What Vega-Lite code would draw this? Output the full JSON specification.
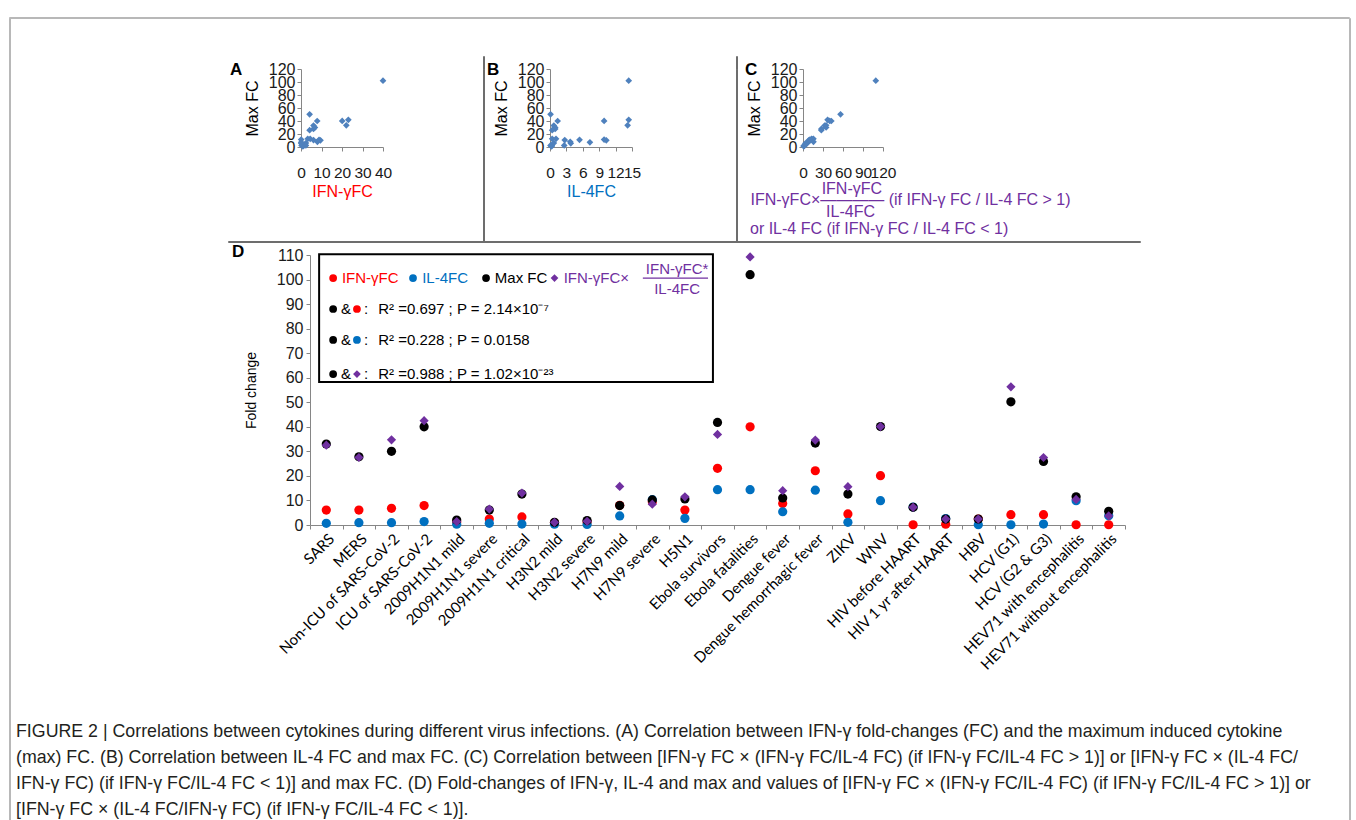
{
  "$schema": "https://vega.github.io/schema/vega-lite/v6.json",
  "background": "white",
  "padding": {"left": 8, "top": 16, "right": 5, "bottom": 0},
  "config": {
    "view": {"stroke": null},
    "font": "Liberation Sans",
    "axis": {
      "domainColor": "#868686", "tickColor": "#868686", "labelColor": "#1a1a1a", "titleColor": "#000000",
      "grid": false, "labelFont": "Liberation Sans", "titleFont": "Liberation Sans", "titleFontWeight": "normal",
      "tickSize": 4, "labelOverlap": false, "labelFlush": false, "labelFontSize": 16, "titleFontSize": 16
    }
  },
  "datasets": {
    "fc": [
      {"cat": "SARS", "ifn": 6.1, "il4": 0.7, "max": 33.0, "ratio": 32.5},
      {"cat": "MERS", "ifn": 6.1, "il4": 0.95, "max": 27.8, "ratio": 27.5},
      {"cat": "Non-ICU of SARS-CoV-2", "ifn": 6.8, "il4": 0.95, "max": 30.0, "ratio": 34.7},
      {"cat": "ICU of SARS-CoV-2", "ifn": 7.9, "il4": 1.4, "max": 40.0, "ratio": 42.5},
      {"cat": "2009H1N1 mild", "ifn": 1.2, "il4": 0.3, "max": 2.0, "ratio": 1.4},
      {"cat": "2009H1N1 severe", "ifn": 2.4, "il4": 0.7, "max": 6.1, "ratio": 6.5},
      {"cat": "2009H1N1 critical", "ifn": 3.3, "il4": 0.4, "max": 12.6, "ratio": 13.0},
      {"cat": "H3N2 mild", "ifn": 0.9, "il4": 0.3, "max": 1.1, "ratio": 1.1},
      {"cat": "H3N2 severe", "ifn": 1.2, "il4": 0.2, "max": 1.8, "ratio": 1.5},
      {"cat": "H7N9 mild", "ifn": 8.0, "il4": 3.7, "max": 7.9, "ratio": 15.7},
      {"cat": "H7N9 severe", "ifn": 9.5, "il4": 10.3, "max": 10.2, "ratio": 8.5},
      {"cat": "H5N1", "ifn": 6.1, "il4": 2.7, "max": 10.6, "ratio": 11.5},
      {"cat": "Ebola survivors", "ifn": 23.1, "il4": 14.4, "max": 41.8, "ratio": 36.9},
      {"cat": "Ebola fatalities", "ifn": 40.0, "il4": 14.4, "max": 102.0, "ratio": 109.2},
      {"cat": "Dengue fever", "ifn": 8.8, "il4": 5.4, "max": 11.0, "ratio": 14.0},
      {"cat": "Dengue hemorrhagic fever", "ifn": 22.1, "il4": 14.2, "max": 33.4, "ratio": 34.6},
      {"cat": "ZIKV", "ifn": 4.5, "il4": 1.1, "max": 12.6, "ratio": 15.6},
      {"cat": "WNV", "ifn": 20.1, "il4": 9.9, "max": 40.1, "ratio": 40.1},
      {"cat": "HIV before HAART", "ifn": 0.1, "il4": 7.3, "max": 7.2, "ratio": 7.2},
      {"cat": "HIV 1 yr after HAART", "ifn": 0.3, "il4": 2.6, "max": 2.4, "ratio": 2.4},
      {"cat": "HBV", "ifn": 2.4, "il4": 0.1, "max": 2.4, "ratio": 2.4},
      {"cat": "HCV (G1)", "ifn": 4.2, "il4": 0.1, "max": 50.2, "ratio": 56.3},
      {"cat": "HCV (G2 & G3)", "ifn": 4.2, "il4": 0.4, "max": 25.9, "ratio": 27.5},
      {"cat": "HEV71 with encephalitis", "ifn": 0.1, "il4": 9.9, "max": 11.5, "ratio": 10.4},
      {"cat": "HEV71 without encephalitis", "ifn": 0.1, "il4": 3.8, "max": 5.6, "ratio": 3.7}
    ],
    "legBox": [{"lx": 0.28, "lx2": 12.36, "fc": 58.3, "fc2": 110.3}],
    "legSym": [
      {"lx": 0.71, "fc": 100.6, "series": "ifn"},
      {"lx": 3.16, "fc": 100.6, "series": "il4"},
      {"lx": 5.40, "fc": 100.6, "series": "max"},
      {"lx": 7.50, "fc": 100.6, "series": "ratio"},
      {"lx": 0.71, "fc": 88.0, "series": "max"},
      {"lx": 1.44, "fc": 88.0, "series": "ifn"},
      {"lx": 0.71, "fc": 75.4, "series": "max"},
      {"lx": 1.44, "fc": 75.4, "series": "il4"},
      {"lx": 0.71, "fc": 61.5, "series": "max"},
      {"lx": 1.44, "fc": 61.5, "series": "ratio"}
    ],
    "legLeft": [
      {"lx": 0.98, "fc": 100.6, "series": "ifn", "text": "IFN-γFC"},
      {"lx": 3.44, "fc": 100.6, "series": "il4", "text": "IL-4FC"},
      {"lx": 5.67, "fc": 100.6, "series": "max", "text": "Max FC"},
      {"lx": 7.78, "fc": 100.6, "series": "ratio", "text": "IFN-γFC×"},
      {"lx": 0.95, "fc": 88.0, "series": "max", "text": "&"},
      {"lx": 1.66, "fc": 88.0, "series": "max", "text": ":"},
      {"lx": 2.09, "fc": 88.0, "series": "max", "text": "R² =0.697 ; P = 2.14×10⁻⁷"},
      {"lx": 0.95, "fc": 75.4, "series": "max", "text": "&"},
      {"lx": 1.66, "fc": 75.4, "series": "max", "text": ":"},
      {"lx": 2.09, "fc": 75.4, "series": "max", "text": "R² =0.228 ; P = 0.0158"},
      {"lx": 0.95, "fc": 61.5, "series": "max", "text": "&"},
      {"lx": 1.66, "fc": 61.5, "series": "max", "text": ":"},
      {"lx": 2.09, "fc": 61.5, "series": "max", "text": "R² =0.988 ; P = 1.02×10⁻²³"}
    ],
    "legCenter": [
      {"lx": 11.26, "fc": 104.3, "series": "ratio", "text": "IFN-γFC*"},
      {"lx": 11.26, "fc": 96.0, "series": "ratio", "text": "IL-4FC"}
    ],
    "legBar": [{"lx": 10.21, "lx2": 12.21, "fc": 100.6, "series": "ratio"}]
  },
  "spacing": 0,
  "bounds": "flush",
  "vconcat": [
    {"data": {"values": []}, "mark": "point", "encoding": {}, "width": 1340, "height": 1, "view": {"stroke": "#b8b8b8", "strokeWidth": 1}},
    {
      "spacing": 0,
      "bounds": "flush",
      "hconcat": [
        {"data": {"values": []}, "mark": "point", "encoding": {}, "width": 1, "height": 810, "view": {"stroke": "#b8b8b8", "strokeWidth": 1}},
        {"data": {"values": []}, "mark": "point", "encoding": {}, "width": 218, "height": 1},
        {
          "title": {
            "text": [
              "FIGURE 2 | Correlations between cytokines during different virus infections. (A) Correlation between IFN-γ fold-changes (FC) and the maximum induced cytokine",
              "(max) FC. (B) Correlation between IL-4 FC and max FC. (C) Correlation between [IFN-γ FC × (IFN-γ FC/IL-4 FC) (if IFN-γ FC/IL-4 FC > 1)] or [IFN-γ FC × (IL-4 FC/",
              "IFN-γ FC) (if IFN-γ FC/IL-4 FC < 1)] and max FC. (D) Fold-changes of IFN-γ, IL-4 and max and values of [IFN-γ FC × (IFN-γ FC/IL-4 FC) (if IFN-γ FC/IL-4 FC > 1)] or",
              "[IFN-γ FC × (IL-4 FC/IFN-γ FC) (if IFN-γ FC/IL-4 FC < 1)]."
            ],
            "orient": "bottom", "anchor": "start", "frame": "group", "dx": -212, "offset": 51,
            "font": "Liberation Sans", "fontSize": 17.8, "fontWeight": "normal", "color": "#231f20", "lineHeight": 25.7
          },
          "spacing": 0,
          "bounds": "flush",
          "vconcat": [
            {"data": {"values": []}, "mark": "point", "encoding": {}, "width": 1, "height": 38},
            {
              "columns": 10,
              "spacing": 0,
              "bounds": "flush",
              "align": {"row": "each", "column": "each"},
              "concat": [
                {"data": {"values": []}, "mark": "point", "encoding": {}, "width": 73, "height": 13},
                {"data": {"values": []}, "mark": "point", "encoding": {}, "width": 82, "height": 13,
                 "title": {"text": "A", "orient": "bottom", "baseline": "alphabetic", "anchor": "start", "frame": "group", "dx": -71, "dy": 6, "offset": 0, "fontSize": 17, "fontWeight": "bold", "color": "#000"}},
                {"data": {"values": []}, "mark": "point", "encoding": {}, "width": 100, "height": 13},
                {"data": {"values": []}, "mark": "point", "encoding": {}, "width": 1, "height": 13, "view": {"stroke": "#6d6d6d", "strokeWidth": 1}},
                {"data": {"values": []}, "mark": "point", "encoding": {}, "width": 66, "height": 13},
                {"data": {"values": []}, "mark": "point", "encoding": {}, "width": 82, "height": 13,
                 "title": {"text": "B", "orient": "bottom", "baseline": "alphabetic", "anchor": "start", "frame": "group", "dx": -63, "dy": 6, "offset": 0, "fontSize": 17, "fontWeight": "bold", "color": "#000"}},
                {"data": {"values": []}, "mark": "point", "encoding": {}, "width": 104, "height": 13},
                {"data": {"values": []}, "mark": "point", "encoding": {}, "width": 1, "height": 13, "view": {"stroke": "#6d6d6d", "strokeWidth": 1}},
                {"data": {"values": []}, "mark": "point", "encoding": {}, "width": 66, "height": 13},
                {"data": {"values": []}, "mark": "point", "encoding": {}, "width": 80, "height": 13,
                 "title": {"text": "C", "orient": "bottom", "baseline": "alphabetic", "anchor": "start", "frame": "group", "dx": -58, "dy": 6, "offset": 0, "fontSize": 17, "fontWeight": "bold", "color": "#000"}},

                {"data": {"values": []}, "mark": "point", "encoding": {}, "width": 73, "height": 1},
                {
                  "data": {"name": "fc"}, "width": 82, "height": 78,
                  "mark": {"type": "point", "shape": "diamond", "filled": true, "color": "#4f81bd", "size": 45, "opacity": 1},
                  "encoding": {
                    "x": {"field": "ifn", "type": "quantitative", "scale": {"domain": [0, 40], "nice": false},
                          "axis": {"values": [0, 10, 20, 30, 40], "title": "IFN-γFC", "titleColor": "#ff0000", "labelPadding": 14, "labelFontSize": 15.5, "titlePadding": 3}},
                    "y": {"field": "max", "type": "quantitative", "scale": {"domain": [0, 120], "nice": false},
                          "axis": {"values": [0, 20, 40, 60, 80, 100, 120], "title": "Max FC", "titlePadding": 8, "labelPadding": 2}}
                  }
                },
                {"data": {"values": []}, "mark": "point", "encoding": {}, "width": 100, "height": 1},
                {"data": {"values": []}, "mark": "point", "encoding": {}, "width": 1, "height": 172, "view": {"stroke": "#6d6d6d", "strokeWidth": 1}},
                {"data": {"values": []}, "mark": "point", "encoding": {}, "width": 66, "height": 1},
                {
                  "data": {"name": "fc"}, "width": 82, "height": 78,
                  "mark": {"type": "point", "shape": "diamond", "filled": true, "color": "#4f81bd", "size": 45, "opacity": 1},
                  "encoding": {
                    "x": {"field": "il4", "type": "quantitative", "scale": {"domain": [0, 15], "nice": false},
                          "axis": {"values": [0, 3, 6, 9, 12, 15], "title": "IL-4FC", "titleColor": "#0070c0", "labelPadding": 14, "labelFontSize": 15.5, "titlePadding": 3}},
                    "y": {"field": "max", "type": "quantitative", "scale": {"domain": [0, 120], "nice": false},
                          "axis": {"values": [0, 20, 40, 60, 80, 100, 120], "title": "Max FC", "titlePadding": 8, "labelPadding": 2}}
                  }
                },
                {"data": {"values": []}, "mark": "point", "encoding": {}, "width": 104, "height": 1},
                {"data": {"values": []}, "mark": "point", "encoding": {}, "width": 1, "height": 172, "view": {"stroke": "#6d6d6d", "strokeWidth": 1}},
                {"data": {"values": []}, "mark": "point", "encoding": {}, "width": 66, "height": 1},
                {
                  "data": {"name": "fc"}, "width": 80, "height": 78,
                  "title": {"text": "or IL-4 FC (if IFN-γ FC / IL-4 FC < 1)", "orient": "bottom", "anchor": "start", "frame": "group", "dx": -53, "offset": 2, "fontSize": 16, "fontWeight": "normal", "color": "#7030a0"},
                  "mark": {"type": "point", "shape": "diamond", "filled": true, "color": "#4f81bd", "size": 45, "opacity": 1},
                  "encoding": {
                    "x": {"field": "ratio", "type": "quantitative", "scale": {"domain": [0, 120], "nice": false},
                          "axis": {"values": [0, 30, 60, 90, 120], "labelPadding": 14, "labelFontSize": 15.5,
                                   "title": ["\u200b\u00a0\u00a0\u00a0\u00a0\u00a0\u00a0\u00a0\u00a0\u00a0\u00a0\u00a0\u00a0\u00a0\u00a0\u00a0\u00a0IFN-γFC", "IFN-γFC×———— (if IFN-γ FC / IL-4 FC > 1)", "\u200b\u00a0\u00a0\u00a0\u00a0\u00a0\u00a0\u00a0\u00a0\u00a0\u00a0\u00a0\u00a0\u00a0\u00a0\u00a0\u00a0\u00a0IL-4FC"],
                                   "titleColor": "#7030a0", "titleAlign": "left", "titleAnchor": "start", "titleBaseline": "top",
                                   "titleLineHeight": 11.5, "titleX": -53, "titleY": 33}},
                    "y": {"field": "max", "type": "quantitative", "scale": {"domain": [0, 120], "nice": false},
                          "axis": {"values": [0, 20, 40, 60, 80, 100, 120], "title": "Max FC", "titlePadding": 8, "labelPadding": 2}}
                  }
                }
              ]
            },
            {"data": {"values": []}, "mark": "point", "encoding": {}, "width": 912, "height": 185},
            {"data": {"values": []}, "mark": "point", "encoding": {}, "width": 912, "height": 1, "view": {"stroke": "#6d6d6d", "strokeWidth": 1}},
            {"data": {"values": []}, "mark": "point", "encoding": {}, "width": 1, "height": 13},
            {
              "spacing": 0,
              "bounds": "flush",
              "hconcat": [
                {"data": {"values": []}, "mark": "point", "encoding": {}, "width": 82, "height": 1},
                {
                  "width": 815, "height": 270,
                  "title": {"text": "D", "anchor": "start", "frame": "group", "dx": -78, "dy": 18, "fontSize": 17, "fontWeight": "bold", "color": "#000"},
                  "layer": [
                    {
                      "data": {"name": "legBox"},
                      "mark": {"type": "rect", "fill": null, "stroke": "#000000", "strokeWidth": 2},
                      "encoding": {
                        "x": {"field": "lx", "type": "quantitative", "scale": {"domain": [0, 25], "nice": false}, "axis": null},
                        "x2": {"field": "lx2"},
                        "y": {"field": "fc", "type": "quantitative", "scale": {"domain": [0, 110], "nice": false},
                              "axis": {"values": [0, 10, 20, 30, 40, 50, 60, 70, 80, 90, 100, 110], "title": "Fold change", "titleFontSize": 14, "titlePadding": 18, "labelPadding": 3}},
                        "y2": {"field": "fc2"}
                      }
                    },
                    {
                      "data": {"name": "fc"},
                      "transform": [{"fold": ["ifn", "il4", "max", "ratio"], "as": ["series", "fc"]}],
                      "mark": {"type": "point", "filled": true, "opacity": 1},
                      "encoding": {
                        "x": {"field": "cat", "type": "nominal", "sort": null, "scale": {"type": "band", "paddingInner": 0, "paddingOuter": 0},
                              "axis": {"title": null, "labelAngle": -45, "labelFont": "Lato", "labelFontSize": 15, "labelColor": "#000000", "tickBand": "extent", "labelLimit": 400, "labelPadding": 2}},
                        "y": {"field": "fc", "type": "quantitative", "scale": {"domain": [0, 110], "nice": false},
                              "axis": {"values": [0, 10, 20, 30, 40, 50, 60, 70, 80, 90, 100, 110], "title": "Fold change", "titleFontSize": 14, "titlePadding": 18, "labelPadding": 3}},
                        "color": {"field": "series", "type": "nominal", "scale": {"domain": ["ifn", "il4", "max", "ratio"], "range": ["#ff0000", "#0070c0", "#000000", "#7030a0"]}, "legend": null},
                        "shape": {"field": "series", "type": "nominal", "scale": {"domain": ["ifn", "il4", "max", "ratio"], "range": ["circle", "circle", "circle", "diamond"]}, "legend": null},
                        "size": {"field": "series", "type": "nominal", "scale": {"domain": ["ifn", "il4", "max", "ratio"], "range": [85, 85, 85, 100]}, "legend": null}
                      }
                    },
                    {
                      "data": {"name": "legSym"},
                      "mark": {"type": "point", "filled": true, "opacity": 1, "size": 60},
                      "encoding": {
                        "x": {"field": "lx", "type": "quantitative", "scale": {"domain": [0, 25], "nice": false}, "axis": null},
                        "y": {"field": "fc", "type": "quantitative", "scale": {"domain": [0, 110], "nice": false},
                              "axis": {"values": [0, 10, 20, 30, 40, 50, 60, 70, 80, 90, 100, 110], "title": "Fold change", "titleFontSize": 14, "titlePadding": 18, "labelPadding": 3}},
                        "color": {"field": "series", "type": "nominal", "scale": {"domain": ["ifn", "il4", "max", "ratio"], "range": ["#ff0000", "#0070c0", "#000000", "#7030a0"]}, "legend": null},
                        "shape": {"field": "series", "type": "nominal", "scale": {"domain": ["ifn", "il4", "max", "ratio"], "range": ["circle", "circle", "circle", "diamond"]}, "legend": null}
                      }
                    },
                    {
                      "data": {"name": "legLeft"},
                      "mark": {"type": "text", "align": "left", "baseline": "middle", "fontSize": 15, "font": "Liberation Sans"},
                      "encoding": {
                        "x": {"field": "lx", "type": "quantitative", "scale": {"domain": [0, 25], "nice": false}, "axis": null},
                        "y": {"field": "fc", "type": "quantitative", "scale": {"domain": [0, 110], "nice": false},
                              "axis": {"values": [0, 10, 20, 30, 40, 50, 60, 70, 80, 90, 100, 110], "title": "Fold change", "titleFontSize": 14, "titlePadding": 18, "labelPadding": 3}},
                        "text": {"field": "text"},
                        "color": {"field": "series", "type": "nominal", "scale": {"domain": ["ifn", "il4", "max", "ratio"], "range": ["#ff0000", "#0070c0", "#000000", "#7030a0"]}, "legend": null}
                      }
                    },
                    {
                      "data": {"name": "legCenter"},
                      "mark": {"type": "text", "align": "center", "baseline": "middle", "fontSize": 15, "font": "Liberation Sans"},
                      "encoding": {
                        "x": {"field": "lx", "type": "quantitative", "scale": {"domain": [0, 25], "nice": false}, "axis": null},
                        "y": {"field": "fc", "type": "quantitative", "scale": {"domain": [0, 110], "nice": false},
                              "axis": {"values": [0, 10, 20, 30, 40, 50, 60, 70, 80, 90, 100, 110], "title": "Fold change", "titleFontSize": 14, "titlePadding": 18, "labelPadding": 3}},
                        "text": {"field": "text"},
                        "color": {"field": "series", "type": "nominal", "scale": {"domain": ["ifn", "il4", "max", "ratio"], "range": ["#ff0000", "#0070c0", "#000000", "#7030a0"]}, "legend": null}
                      }
                    },
                    {
                      "data": {"name": "legBar"},
                      "mark": {"type": "rule", "strokeWidth": 1.3},
                      "encoding": {
                        "x": {"field": "lx", "type": "quantitative", "scale": {"domain": [0, 25], "nice": false}, "axis": null},
                        "x2": {"field": "lx2"},
                        "y": {"field": "fc", "type": "quantitative", "scale": {"domain": [0, 110], "nice": false},
                              "axis": {"values": [0, 10, 20, 30, 40, 50, 60, 70, 80, 90, 100, 110], "title": "Fold change", "titleFontSize": 14, "titlePadding": 18, "labelPadding": 3}},
                        "color": {"field": "series", "type": "nominal", "scale": {"domain": ["ifn", "il4", "max", "ratio"], "range": ["#ff0000", "#0070c0", "#000000", "#7030a0"]}, "legend": null}
                      }
                    }
                  ],
                  "resolve": {"scale": {"x": "independent"}, "axis": {"x": "independent"}}
                }
              ]
            }
          ]
        },
        {"data": {"values": []}, "mark": "point", "encoding": {}, "width": 1121, "height": 1},
        {"data": {"values": []}, "mark": "point", "encoding": {}, "width": 1, "height": 810, "view": {"stroke": "#b8b8b8", "strokeWidth": 1}}
      ]
    }
  ]
}
